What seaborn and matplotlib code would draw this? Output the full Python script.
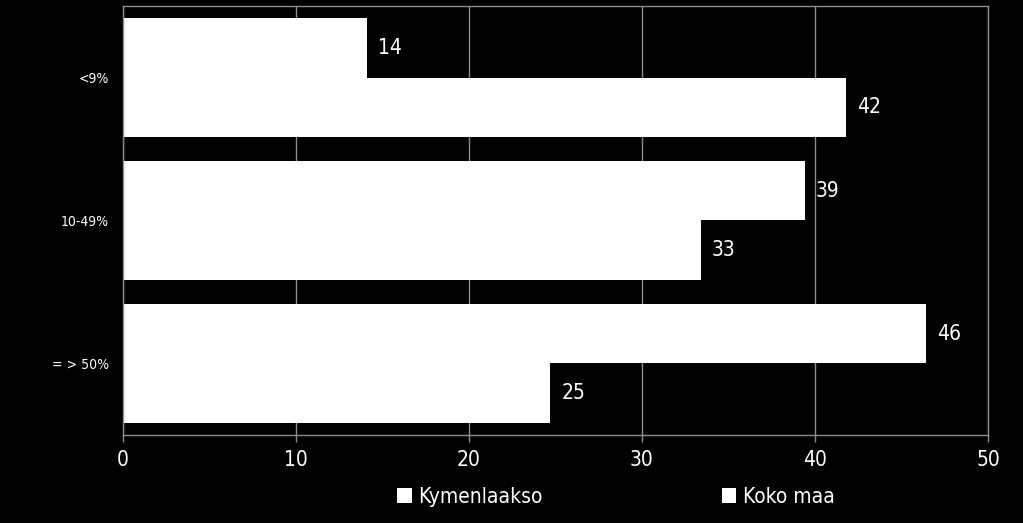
import pandas as pd
import matplotlib.pyplot as plt
import seaborn as sns
from matplotlib.patches import Patch

categories = ["<9%", "10-49%", "= > 50%"]
series = ["Kymenlaakso", "Koko maa"]
kymenlaakso = [14.1, 39.4, 46.4]
koko_maa = [41.8, 33.4, 24.7]
x_ticks = [0, 10, 20, 30, 40, 50]

df = pd.DataFrame({
    "category": categories * 2,
    "series": [series[0]] * 3 + [series[1]] * 3,
    "value": kymenlaakso + koko_maa,
})

sns.set_theme(style="dark")
plt.rcParams["font.family"] = ["DejaVu Sans"]
plt.rcParams["font.stretch"] = "condensed"
grey = "#8c8c8c"

fig = plt.figure(figsize=(10.23, 5.23), dpi=100, facecolor="black")
ax = fig.add_axes([0.1202, 0.1683, 0.8456, 0.8202])
ax.set_facecolor("black")

sns.barplot(data=df, x="value", y="category", hue="series", order=categories,
            hue_order=series, palette=["white", "white"], orient="h",
            width=0.83, saturation=1, edgecolor="none", legend=False, ax=ax)

for cont in ax.containers:
    ax.bar_label(cont, fmt="%.0f", padding=8, color="white", fontsize=15)

ax.set_xlim(0, 50)
ax.set_ylim(2.5, -0.5)
ax.set_xticks(x_ticks)
ax.xaxis.grid(True, color=grey, linewidth=1)
ax.yaxis.grid(False)
ax.set_axisbelow(True)
for s in ax.spines.values():
    s.set_visible(True)
    s.set_color(grey)
    s.set_linewidth(1)
ax.tick_params(axis="x", colors=grey, labelcolor="white", labelsize=15,
               length=5, width=1, direction="out", bottom=True, pad=6)
ax.tick_params(axis="y", labelcolor="white", labelsize=10,
               length=0, left=False, pad=10)
ax.set_xlabel("")
ax.set_ylabel("")

handles = [Patch(facecolor="white", edgecolor="none") for _ in series]
fig.legend(handles, series, loc="center", bbox_to_anchor=(0.602, 0.05), ncol=2,
           frameon=False, fontsize=15, labelcolor="white", handlelength=0.7,
           handleheight=0.7, handletextpad=0.3, columnspacing=8.6)

fig.savefig("out.png", dpi=100, facecolor="black")
